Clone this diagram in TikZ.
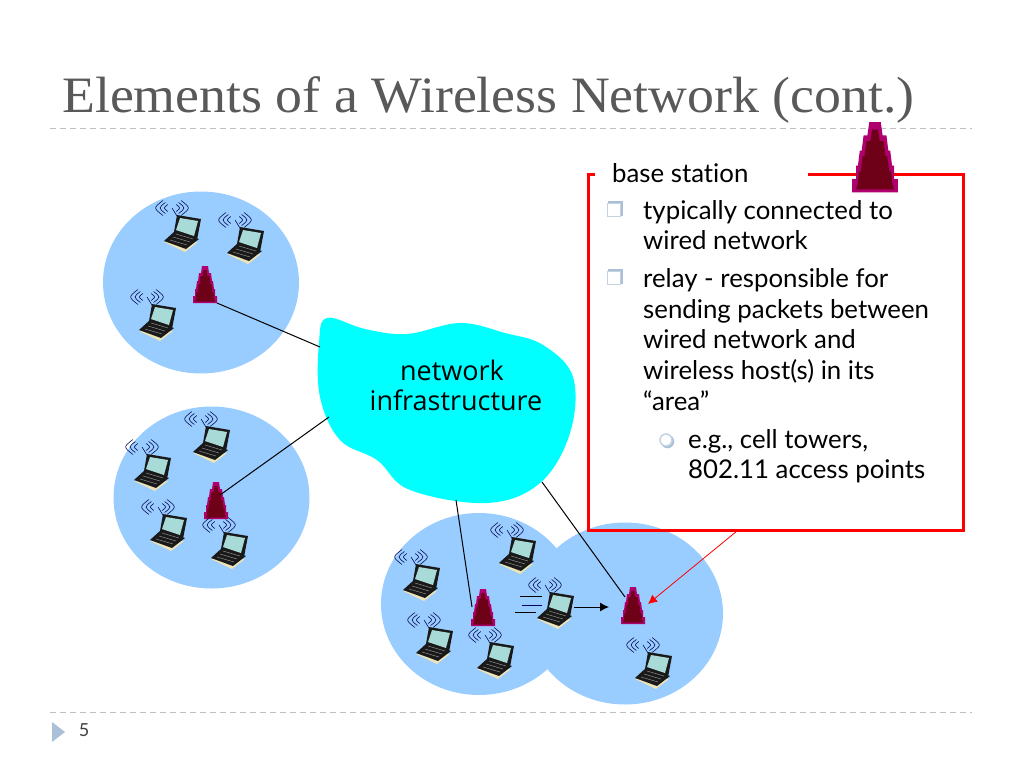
\documentclass[tikz,border=0pt]{standalone}
\usepackage{fontspec}
\usetikzlibrary{arrows.meta,shadows}
\setmainfont[Ligatures={TeX,NoCommon}]{Lato}
\newfontfamily\titlefont[FakeStretch=1.055]{Liberation Serif}
\newfontfamily\cloudfont{Open Sans}
\definecolor{cellblue}{HTML}{99CCFF}
\definecolor{cloudcyan}{HTML}{00FFFF}
\definecolor{rulegray}{HTML}{BFBFBF}
\definecolor{titlegray}{HTML}{595959}
\definecolor{bulletblue}{HTML}{A9C0D8}
\definecolor{rimmagenta}{HTML}{B0006E}
\definecolor{coredark}{HTML}{6E0018}
\definecolor{screenteal}{HTML}{A8DAD8}
\definecolor{basecream}{HTML}{EFE4B8}
\tikzset{
  cell/.style={fill=cellblue,draw=none},
  wave/.style={draw=black!70!blue,line width=0.55pt},
  link/.style={draw=black,line width=1pt},
  slidedash/.style={draw=rulegray,line width=0.8pt,dash pattern=on 6pt off 4pt},
  bodytext/.style={anchor=north west,inner sep=0pt,align=left,font=\fontsize{25.8}{30.6}\selectfont,text=black},
  tickbox/.style={draw=bulletblue!70,line width=1.6pt,fill=white,minimum size=13pt,inner sep=0pt,
    copy shadow={shadow xshift=1.5pt,shadow yshift=1.5pt,draw=bulletblue,fill=bulletblue}},
  tickring/.style={circle,draw=bulletblue!70,line width=1.5pt,fill=white,minimum size=12pt,inner sep=0pt,
    copy shadow={shadow xshift=1.5pt,shadow yshift=-1.5pt,draw=bulletblue,fill=bulletblue}},
  laptop/.pic={
    \foreach \r in {7,11,15}{
      \draw[wave] ({-10-\r*.6},{-25-\r*.5}) .. controls ({-10-\r*1.25},-25) .. ({-10-\r*.6},{-25+\r*.5});
      \draw[wave] ({-10+\r*.6},{-25-\r*.5}) .. controls ({-10+\r*1.25},-25) .. ({-10+\r*.6},{-25+\r*.5});
    }
    \draw[wave] (-10,-25) -- (-5,-17);
    \fill[black!90] (-5,-18) -- (19,-14) -- (15,7) -- (-8,-1) -- cycle;
    \fill[screenteal] (-2,-15) -- (16,-12) -- (12,3) -- (-6,-3) -- cycle;
    \fill[basecream] (-18,9) -- (3,19) -- (16,9) -- cycle;
    \fill[black!90] (-18,8) -- (-7,-2) -- (17,6) -- (4,16) -- cycle;
    \foreach \k in {0,1,2}{
      \draw[black!45,line width=0.5pt] ({-12+\k*3},{7-\k*3}) -- ({5+\k*3},{12-\k*3});
    }
  },
  tower/.pic={
    \fill[rimmagenta] (-3,0) -- (3,0) -- (4,7) -- (6,7) -- (7,15) -- (8,15) -- (9,23) -- (10,23) -- (10,30) -- (12,30) -- (12,37)
      -- (-12,37) -- (-12,30) -- (-10,30) -- (-10,23) -- (-9,23) -- (-8,15) -- (-7,15) -- (-6,7) -- (-4,7) -- cycle;
    \fill[coredark] (-1.5,4) -- (1.5,4) -- (2.5,10) -- (4.5,10) -- (5.5,18) -- (6.5,18) -- (7.5,26) -- (8.5,26) -- (9,32) -- (10,35.5)
      -- (-10,35.5) -- (-9,32) -- (-8.5,26) -- (-7.5,26) -- (-6.5,18) -- (-5.5,18) -- (-4.5,10) -- (-2.5,10) -- cycle;
  }
}
\begin{document}
\begin{tikzpicture}[x=1pt,y=-1pt]
  \useasboundingbox (0,0) rectangle (1024,768);
  % slide frame
  \draw
    (62,100) node[anchor=west,inner sep=0pt,text=titlegray,font=\titlefont\fontsize{51}{51}\selectfont] (title){Elements of a Wireless Network (cont.)}
    (84,730) node[inner sep=0pt,text=black!75,font=\fontsize{18}{18}\selectfont] (pageno){5};
  \draw[slidedash] (50,128) -- (972,128);
  \draw[slidedash] (50,712) -- (972,712);
  \fill[bulletblue] (52,722) -- (65,732) -- (52,742) -- cycle;
  % cells
  \fill[cell] (201,282.5) ellipse [x radius=98,y radius=91];
  \fill[cell] (211.5,497.5) ellipse [x radius=98,y radius=91];
  \fill[cell] (479,604) ellipse [x radius=98,y radius=91];
  \fill[cell] (625,613.5) ellipse [x radius=98,y radius=91];
  % network cloud
  \fill[cloudcyan] plot[smooth cycle,tension=0.62] coordinates {(327,318) (365,329) (407,334) (460,323) (505,333) (543,345)
    (573,377) (570,433) (540,483) (487,503) (410,490) (377,460) (340,440) (320,397) (319,343)};
  \draw
    (452,370) node[inner sep=0pt,font=\cloudfont\fontsize{27}{27}\selectfont] (netlabel){network}
    (456,400) node[inner sep=0pt,font=\cloudfont\fontsize{27}{27}\selectfont] (infralabel){infrastructure};
  % base stations
  \path (205,266) pic {tower};
  \path (216,482) pic {tower};
  \path (483,589) pic {tower};
  \path (633,587) pic {tower};
  % hosts
  \foreach \hx/\hy in {182/233,245/245,157/322,211/444,152/472,168/532,229/550,517/555,555/610,421/582,434/645,495/660,653/670}{
    \path (\hx,\hy) pic {laptop};
  }
  % links
  \draw
    (217,303) coordinate (stationa)
    (320,347) coordinate (clouda)
    (220,495) coordinate (stationb)
    (329,417) coordinate (cloudb)
    (472,607) coordinate (stationc)
    (456,500) coordinate (cloudc)
    (625,597) coordinate (stationd)
    (542,482) coordinate (cloudd)
    (574,607) coordinate (hostmove)
    (609,607) coordinate (hosttarget)
    (737,531) coordinate (boxcorner)
    (648,604) coordinate (stationred);
  \begin{scope}[link]
    \draw (stationa) to (clouda);
    \draw (stationb) to (cloudb);
    \draw (stationc) to (cloudc);
    \draw (stationd) to (cloudd);
    \draw[-{Latex[length=9pt,width=9pt]}] (hostmove) to (hosttarget);
  \end{scope}
  \draw[red,line width=0.8pt,-{Latex[length=9pt,width=9pt]}] (boxcorner) to (stationred);
  % movement marks
  \draw[link] (520,596) -- (542,596);
  \draw[link,black!60!blue] (522,605) -- (542,605);
  \draw[link] (515,612) -- (536,612);
  % callout
  \draw[red,line width=3pt] (595,174) -- (588,174) -- (588,530) -- (963,530) -- (963,174) -- (808,174);
  \path (875,122) pic[scale=1.9] {tower};
  \draw
    (612,163) node[bodytext] (basetitle){base station}
    (643,200) node[bodytext] (first){typically connected to\\wired network}
    (643,268.5) node[bodytext] (second){relay - responsible for\\sending packets between\\wired network and\\wireless host(s) in its\\``area''}
    (688,429) node[bodytext] (third){e.g., cell towers,\\802.11 access points}
    (614,210) node[tickbox] (firsttick){}
    (614,278) node[tickbox] (secondtick){}
    (666,440) node[tickring] (thirdtick){};
\end{tikzpicture}
\end{document}
